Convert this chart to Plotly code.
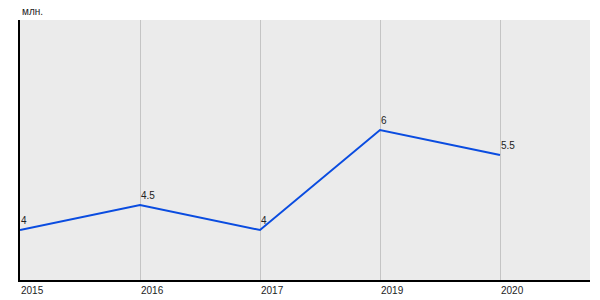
import plotly.graph_objects as go

years = ["2015", "2016", "2017", "2019", "2020"]
values = [4, 4.5, 4, 6, 5.5]
labels = ["4", "4.5", "4", "6", "5.5"]

fig = go.Figure()
fig.add_trace(go.Scatter(
    x=years, y=values, mode="lines",
    line=dict(color="#0a4ce0", width=2),
    hoverinfo="skip", showlegend=False,
))
for i, (y, t) in enumerate(zip(values, labels)):
    fig.add_annotation(x=i, y=y, text=t, showarrow=False,
                       xanchor="left", yanchor="bottom", yshift=2, xshift=-1,
                       font=dict(family="Liberation Sans, Arial", size=10, color="#222"))

fig.add_annotation(xref="paper", yref="paper", x=0, y=1, yshift=1,
                   text="млн.", showarrow=False, xanchor="left", yanchor="bottom",
                   font=dict(family="Liberation Sans, Arial", size=10, color="#222"))

fig.update_layout(
    width=600, height=300,
    margin=dict(l=20, r=10, t=20, b=20, autoexpand=False),
    paper_bgcolor="white", plot_bgcolor="#ebebeb",
    font=dict(family="Liberation Sans, Arial", size=10, color="#222"),
)
fig.update_xaxes(type="category", range=[0, 4.75], showgrid=True,
                 gridcolor="#c4c4c4", gridwidth=1,
                 showline=True, linecolor="black", linewidth=2,
                 ticks="", ticklabelposition="outside right", automargin=False,
                 tickfont=dict(size=10), zeroline=False, fixedrange=True)
fig.update_yaxes(range=[3, 8.2], showgrid=False, showticklabels=False,
                 showline=True, linecolor="black", linewidth=2, automargin=False,
                 zeroline=False, ticks="", fixedrange=True)

fig.write_html("out.html")
